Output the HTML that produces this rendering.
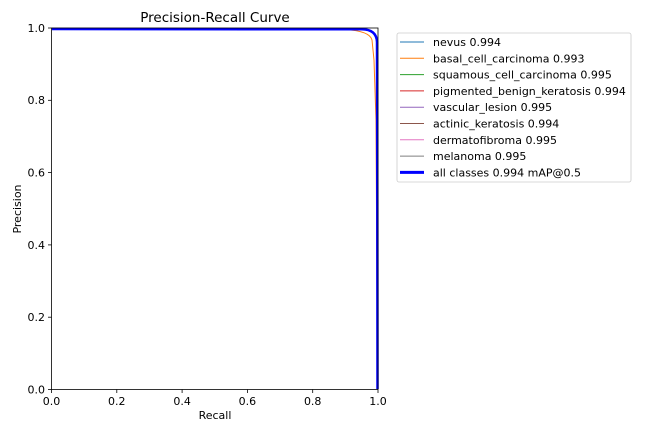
<!DOCTYPE html>
<html><head><meta charset="utf-8"><style>
html,body{margin:0;padding:0;background:#fff;}
svg{display:block;font-family:"DejaVu Sans","Liberation Sans",sans-serif;}
</style></head><body>
<svg width="650" height="433" xmlns="http://www.w3.org/2000/svg">
<rect width="650" height="433" fill="#fff"/>
<text x="215" y="22" font-size="13.5" text-anchor="middle" fill="#000">Precision-Recall Curve</text>
<g fill="none" stroke-width="1">
<path d="M52,29 L345,29.5 Q370,31 372,40 L374,60 L376,120 L377,300 L378,389" stroke="#ff7f0e"/>
<path d="M52,28.8 L360,29 Q376,29 376.5,40 L377,200 L378,389" stroke="#e377c2"/>
</g>
<path d="M52,29 L362,29.3 Q376.5,29.5 377,42 L377.3,200 L377.5,389" fill="none" stroke="#0000ff" stroke-width="2.5"/>
<rect x="51.5" y="28" width="326.5" height="361.5" fill="none" stroke="#000" stroke-width="0.8"/>
<g stroke="#000" stroke-width="0.8">
<line x1="51.5" y1="389.5" x2="51.5" y2="393"/><line x1="116.8" y1="389.5" x2="116.8" y2="393"/><line x1="182.1" y1="389.5" x2="182.1" y2="393"/><line x1="247.4" y1="389.5" x2="247.4" y2="393"/><line x1="312.7" y1="389.5" x2="312.7" y2="393"/><line x1="378" y1="389.5" x2="378" y2="393"/>
<line x1="48" y1="389.5" x2="51.5" y2="389.5"/><line x1="48" y1="317.2" x2="51.5" y2="317.2"/><line x1="48" y1="244.9" x2="51.5" y2="244.9"/><line x1="48" y1="172.6" x2="51.5" y2="172.6"/><line x1="48" y1="100.3" x2="51.5" y2="100.3"/><line x1="48" y1="28" x2="51.5" y2="28"/>
</g>
<g font-size="11" fill="#000" text-anchor="middle">
<text x="51.5" y="405">0.0</text><text x="116.8" y="405">0.2</text><text x="182.1" y="405">0.4</text><text x="247.4" y="405">0.6</text><text x="312.7" y="405">0.8</text><text x="378" y="405">1.0</text>
</g>
<g font-size="11" fill="#000" text-anchor="end">
<text x="45" y="393.5">0.0</text><text x="45" y="321">0.2</text><text x="45" y="249">0.4</text><text x="45" y="176.5">0.6</text><text x="45" y="104">0.8</text><text x="45" y="32">1.0</text>
</g>
<text x="215" y="419" font-size="11" text-anchor="middle">Recall</text>
<text x="21" y="209" font-size="11" text-anchor="middle" transform="rotate(-90 21 209)">Precision</text>
<rect x="397" y="33" width="234" height="149" rx="2" fill="#fff" stroke="#ccc" stroke-width="0.8"/>
<g font-size="11" fill="#000">
<line x1="400" y1="42" x2="424" y2="42" stroke="#1f77b4"/><text x="433" y="46">nevus 0.994</text>
<line x1="400" y1="58.3" x2="424" y2="58.3" stroke="#ff7f0e"/><text x="433" y="62.3">basal_cell_carcinoma 0.993</text>
<line x1="400" y1="74.6" x2="424" y2="74.6" stroke="#2ca02c"/><text x="433" y="78.6">squamous_cell_carcinoma 0.995</text>
<line x1="400" y1="90.9" x2="424" y2="90.9" stroke="#d62728"/><text x="433" y="94.9">pigmented_benign_keratosis 0.994</text>
<line x1="400" y1="107.2" x2="424" y2="107.2" stroke="#9467bd"/><text x="433" y="111.2">vascular_lesion 0.995</text>
<line x1="400" y1="123.5" x2="424" y2="123.5" stroke="#8c564b"/><text x="433" y="127.5">actinic_keratosis 0.994</text>
<line x1="400" y1="139.8" x2="424" y2="139.8" stroke="#e377c2"/><text x="433" y="143.8">dermatofibroma 0.995</text>
<line x1="400" y1="156.1" x2="424" y2="156.1" stroke="#7f7f7f"/><text x="433" y="160.1">melanoma 0.995</text>
<line x1="400" y1="172.4" x2="424" y2="172.4" stroke="#0000ff" stroke-width="3"/><text x="433" y="176.4">all classes 0.994 mAP@0.5</text>
</g>
</svg>
</body></html>
